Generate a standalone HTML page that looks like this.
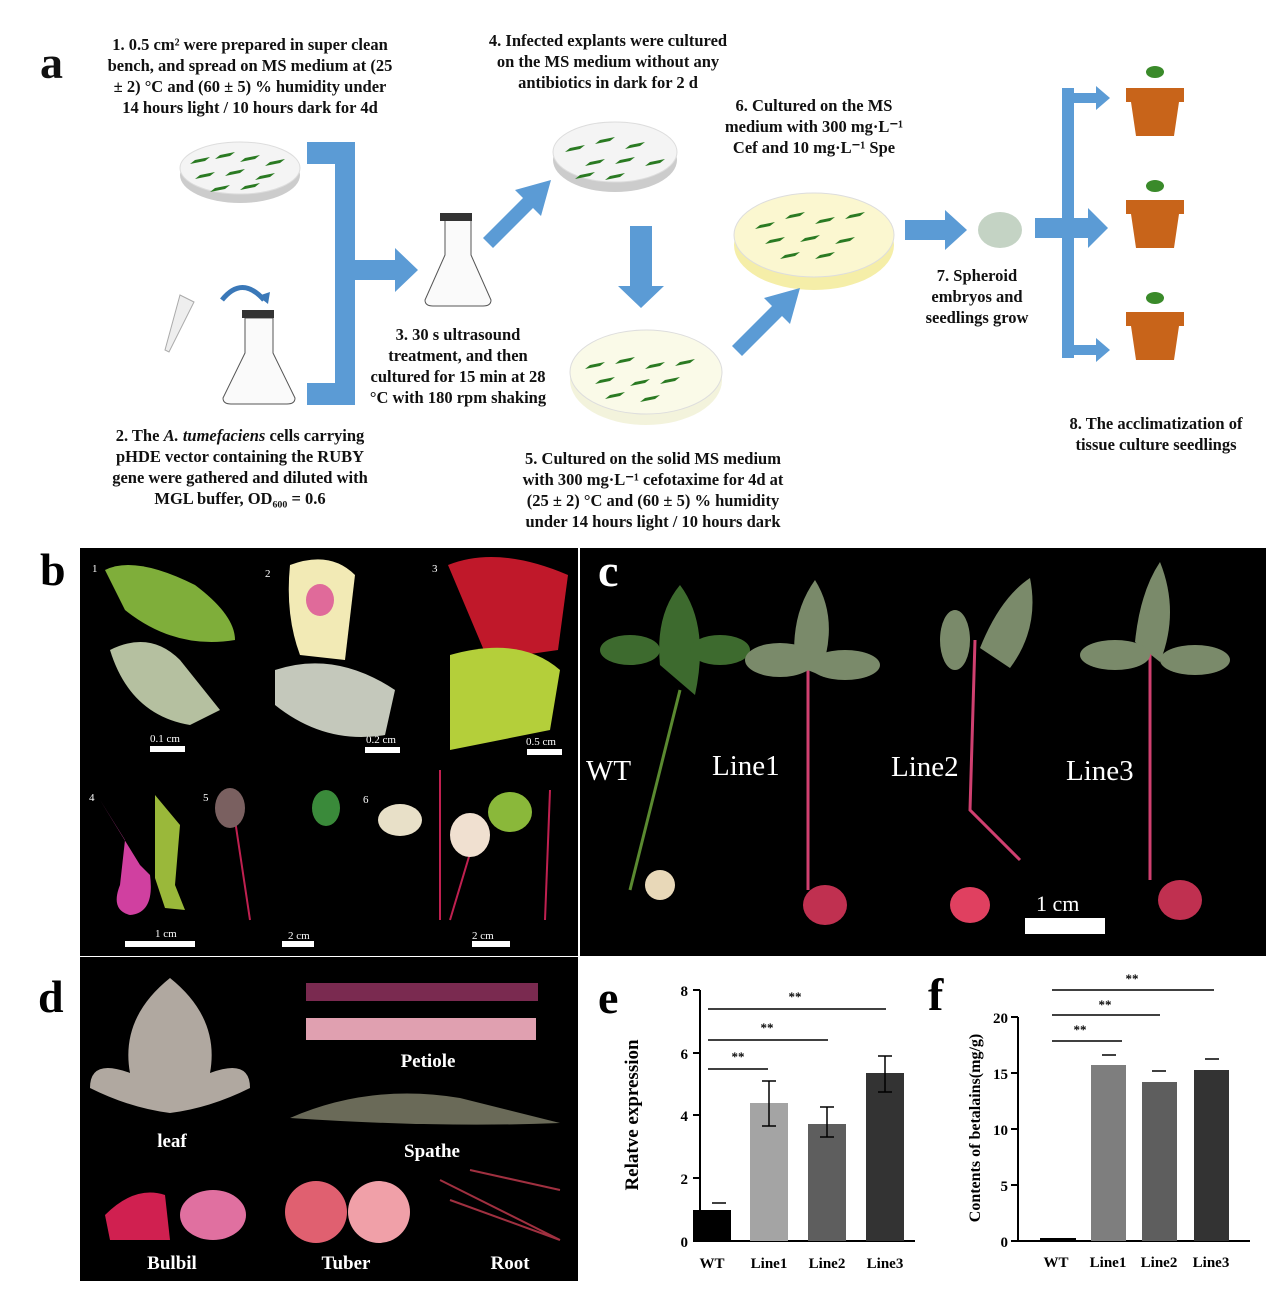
<!DOCTYPE html>
<html><head><meta charset="utf-8"><style>
body{margin:0;background:#fff}
svg text{font-family:"Liberation Serif",serif}
</style></head><body>
<svg width="1268" height="1290" xmlns="http://www.w3.org/2000/svg">
<rect width="1268" height="1290" fill="#fff"/>
<!-- Panel a -->
<g font-weight="bold" font-size="16.5" text-anchor="middle" fill="#111">
<text x="40" y="78" font-size="46" text-anchor="start">a</text>
<text x="250" y="50">1. 0.5 cm² were prepared in super clean</text>
<text x="250" y="71">bench, and spread on MS medium at (25</text>
<text x="250" y="92">± 2) °C and (60 ± 5) % humidity under</text>
<text x="250" y="113">14 hours light / 10 hours dark for 4d</text>
<text x="240" y="441">2. The <tspan font-style="italic">A. tumefaciens</tspan> cells carrying</text>
<text x="240" y="462">pHDE vector containing the RUBY</text>
<text x="240" y="483">gene were gathered and diluted with</text>
<text x="240" y="504">MGL buffer, OD₆₀₀ = 0.6</text>
<text x="458" y="340">3. 30 s ultrasound</text>
<text x="458" y="361">treatment, and then</text>
<text x="458" y="382">cultured for 15 min at 28</text>
<text x="458" y="403">°C with 180 rpm shaking</text>
<text x="608" y="46">4. Infected explants were cultured</text>
<text x="608" y="67">on the MS medium without any</text>
<text x="608" y="88">antibiotics in dark for 2 d</text>
<text x="653" y="464">5. Cultured on the solid MS medium</text>
<text x="653" y="485">with 300 mg·L⁻¹ cefotaxime for 4d at</text>
<text x="653" y="506">(25 ± 2) °C and (60 ± 5) % humidity</text>
<text x="653" y="527">under 14 hours light / 10 hours dark</text>
<text x="814" y="111">6. Cultured on the MS</text>
<text x="814" y="132">medium with 300 mg·L⁻¹</text>
<text x="814" y="153">Cef and 10 mg·L⁻¹ Spe</text>
<text x="977" y="281">7. Spheroid</text>
<text x="977" y="302">embryos and</text>
<text x="977" y="323">seedlings grow</text>
<text x="1156" y="429">8. The acclimatization of</text>
<text x="1156" y="450">tissue culture seedlings</text>
</g>
<!-- dishes -->
<g>
<ellipse cx="240" cy="175" rx="60" ry="28" fill="#ccc"/><ellipse cx="240" cy="168" rx="60" ry="26" fill="#f4f4f4" stroke="#ddd"/>
<ellipse cx="615" cy="160" rx="62" ry="32" fill="#ccc"/><ellipse cx="615" cy="152" rx="62" ry="30" fill="#f4f4f4" stroke="#ddd"/>
<ellipse cx="646" cy="380" rx="76" ry="45" fill="#f3f3dc"/><ellipse cx="646" cy="372" rx="76" ry="42" fill="#fafae8" stroke="#ddd"/>
<ellipse cx="814" cy="245" rx="80" ry="45" fill="#f5eea8"/><ellipse cx="814" cy="235" rx="80" ry="42" fill="#fbf7d0" stroke="#ddd"/>
</g>
<g fill="#2a7a22">
<path d="M195 160l15-3-5 4-15 3zM220 155l15-3-5 4-15 3zM245 158l15-3-5 4-15 3zM270 162l15-3-5 4-15 3zM200 175l15-3-5 4-15 3zM230 172l15-3-5 4-15 3zM260 176l15-3-5 4-15 3zM215 188l15-3-5 4-15 3zM245 186l15-3-5 4-15 3z"/>
<path d="M570 148l15-3-5 4-15 3zM600 140l15-3-5 4-15 3zM630 145l15-3-5 4-15 3zM590 162l15-3-5 4-15 3zM620 160l15-3-5 4-15 3zM650 162l15-3-5 4-15 3zM580 175l15-3-5 4-15 3zM610 176l15-3-5 4-15 3z"/>
<path d="M590 365l15-3-5 4-15 3zM620 360l15-3-5 4-15 3zM650 365l15-3-5 4-15 3zM680 362l15-3-5 4-15 3zM600 380l15-3-5 4-15 3zM635 382l15-3-5 4-15 3zM665 380l15-3-5 4-15 3zM610 395l15-3-5 4-15 3zM645 398l15-3-5 4-15 3z"/>
<path d="M760 225l15-3-5 4-15 3zM790 215l15-3-5 4-15 3zM820 220l15-3-5 4-15 3zM850 215l15-3-5 4-15 3zM770 240l15-3-5 4-15 3zM805 238l15-3-5 4-15 3zM840 240l15-3-5 4-15 3zM785 255l15-3-5 4-15 3zM820 255l15-3-5 4-15 3z"/>
</g>
<!-- flasks -->
<g stroke="#555" fill="#fafafa">
<path d="M245 318v35l-22 45q0 6 8 6h56q8 0 8-6l-22-45v-35z"/>
<path d="M445 220v35l-20 45q0 6 8 6h50q8 0 8-6l-20-45v-35z"/>
</g>
<rect x="242" y="310" width="32" height="8" fill="#333"/>
<rect x="440" y="213" width="32" height="8" fill="#333"/>
<path d="M180 295l-15 55 4 2 25-50z" fill="#eee" stroke="#aaa"/>
<path d="M222 300q20-25 42 0" fill="none" stroke="#3a78b8" stroke-width="5"/>
<path d="M258 296l10 8 2-12z" fill="#3a78b8"/>
<!-- blue arrows -->
<g fill="#5b9bd5">
<path d="M307 142h48v263h-48v-22h28v-219h-28z"/>
<path d="M355 260h40v-12l23 22-23 22v-12h-40z"/>
<path d="M483 238l40-40-8-8 36-10-10 36-8-8-40 40z"/>
<path d="M630 226h22v60h12l-23 22-23-22h12z"/>
<path d="M732 346l40-40-8-8 36-10-10 36-8-8-40 40z"/>
<path d="M905 220h40v-10l22 20-22 20v-10h-40z"/>
<rect x="1062" y="88" width="12" height="270"/>
<rect x="1035" y="218" width="60" height="20"/>
<path d="M1088 208l20 20-20 20z"/>
<rect x="1074" y="93" width="24" height="10"/>
<path d="M1096 86l14 12-14 12z"/>
<rect x="1074" y="345" width="24" height="10"/>
<path d="M1096 338l14 12-14 12z"/>
</g>
<ellipse cx="1000" cy="230" rx="22" ry="18" fill="#c4d3c4"/>
<g fill="#c8641a">
<path d="M1126 88h58v14h-5l-5 34h-38l-5-34h-5z"/>
<path d="M1126 200h58v14h-5l-5 34h-38l-5-34h-5z"/>
<path d="M1126 312h58v14h-5l-5 34h-38l-5-34h-5z"/>
</g>
<g fill="#3a8a2a"><ellipse cx="1155" cy="72" rx="9" ry="6"/><ellipse cx="1155" cy="186" rx="9" ry="6"/><ellipse cx="1155" cy="298" rx="9" ry="6"/></g>
<!-- panel b -->
<rect x="80" y="548" width="498" height="408" fill="#000"/>
<text x="40" y="585" font-size="46" font-weight="bold">b</text>
<g font-size="11" fill="#fff"><text x="92" y="572">1</text><text x="265" y="577">2</text><text x="432" y="572">3</text><text x="89" y="801">4</text><text x="203" y="801">5</text><text x="363" y="803">6</text>
<text x="150" y="742">0.1 cm</text><text x="366" y="743">0.2 cm</text><text x="526" y="745">0.5 cm</text><text x="155" y="937">1 cm</text><text x="288" y="939">2 cm</text><text x="472" y="939">2 cm</text></g>
<g fill="#fff"><rect x="150" y="746" width="35" height="6"/><rect x="365" y="747" width="35" height="6"/><rect x="527" y="749" width="35" height="6"/><rect x="125" y="941" width="70" height="6"/><rect x="282" y="941" width="32" height="6"/><rect x="472" y="941" width="38" height="6"/></g>
<path d="M105 570q30-15 90 15q40 30 40 55q-60 10-110-30z" fill="#7fae3a"/>
<path d="M110 650q40-20 70 10l40 50-30 15q-60-10-80-75z" fill="#b5c0a0"/>
<path d="M290 565q40-15 65 10l-10 85-45-5q-15-40-10-90z" fill="#f2eab5"/>
<ellipse cx="320" cy="600" rx="14" ry="16" fill="#e06a9a"/>
<path d="M275 670q60-20 120 20l-10 45q-60 10-110-30z" fill="#c4c8bb"/>
<path d="M448 565q50-20 120 10l-10 75-70 10z" fill="#c0182a"/>
<path d="M450 655q70-20 110 15l-10 60-100 20z" fill="#b4cf3a"/>
<path d="M100 800l25 40-5 45q-10 25 10 30q25-2 20-40l-10-10z" fill="#d040a0"/>
<path d="M155 795l25 30-5 60 10 25-20-2-10-30z" fill="#9ab83a"/>
<g stroke="#c02050" stroke-width="2" fill="none"><path d="M235 820l15 100"/><path d="M440 770v150"/><path d="M480 820l-30 100"/><path d="M550 790l-5 130"/></g>
<ellipse cx="230" cy="808" rx="15" ry="20" fill="#7a6060"/>
<ellipse cx="326" cy="808" rx="14" ry="18" fill="#3a8a3a"/>
<ellipse cx="400" cy="820" rx="22" ry="16" fill="#e8e0c8"/>
<ellipse cx="470" cy="835" rx="20" ry="22" fill="#f0e0d0"/>
<ellipse cx="510" cy="812" rx="22" ry="20" fill="#8ab83a"/>
<!-- panel c -->
<rect x="580" y="548" width="686" height="408" fill="#000"/>
<text x="598" y="586" font-size="46" font-weight="bold" fill="#fff">c</text>
<g font-size="29" fill="#fff"><text x="586" y="780">WT</text><text x="712" y="775">Line1</text><text x="891" y="776">Line2</text><text x="1066" y="780">Line3</text><text x="1036" y="911" font-size="22">1 cm</text></g>
<rect x="1025" y="918" width="80" height="16" fill="#fff"/>
<g stroke-width="3" fill="none"><path d="M680 690l-50 200" stroke="#5a8a30"/><path d="M808 670v220" stroke="#d04070"/><path d="M975 640l-5 170 50 50" stroke="#d04070"/><path d="M1150 650v230" stroke="#d04070"/></g>
<g fill="#3d6a2e"><path d="M680 585q30 40 15 110l-35-30q-5-50 20-80z"/><ellipse cx="630" cy="650" rx="30" ry="15"/><ellipse cx="720" cy="650" rx="30" ry="15"/></g>
<g fill="#7a8a6a"><path d="M815 580q25 40 5 95l-25-10q-5-50 20-85z"/><ellipse cx="780" cy="660" rx="35" ry="17"/><ellipse cx="845" cy="665" rx="35" ry="15"/>
<path d="M1030 578q10 50-20 90l-30-20q20-50 50-70z"/><ellipse cx="955" cy="640" rx="15" ry="30"/>
<path d="M1160 562q20 50 0 100l-25-20q5-50 25-80z"/><ellipse cx="1115" cy="655" rx="35" ry="15"/><ellipse cx="1195" cy="660" rx="35" ry="15"/></g>
<ellipse cx="660" cy="885" rx="15" ry="15" fill="#e8d8b8"/>
<ellipse cx="825" cy="905" rx="22" ry="20" fill="#c03050"/>
<ellipse cx="970" cy="905" rx="20" ry="18" fill="#e04060"/>
<ellipse cx="1180" cy="900" rx="22" ry="20" fill="#c03050"/>
<!-- panel d -->
<rect x="80" y="957" width="498" height="324" fill="#000"/>
<text x="38" y="1012" font-size="46" font-weight="bold">d</text>
<g font-size="19" font-weight="bold" fill="#fff" text-anchor="middle"><text x="172" y="1147">leaf</text><text x="428" y="1067">Petiole</text><text x="432" y="1157">Spathe</text><text x="172" y="1269">Bulbil</text><text x="346" y="1269">Tuber</text><text x="510" y="1269">Root</text></g>
<path d="M170 978q50 40 40 95q40-15 40 15q-40 20-80 25q-40-5-80-25q0-30 40-15q-10-55 40-95z" fill="#b0a8a0"/>
<rect x="306" y="983" width="232" height="18" fill="#7a2a50"/>
<rect x="306" y="1018" width="230" height="22" fill="#e0a0b0"/>
<path d="M290 1118q80-35 170-20l100 25q-120 5-270-5z" fill="#6a6a58"/>
<path d="M105 1215q30-30 60-20l5 45-60 0z" fill="#d02050"/>
<ellipse cx="213" cy="1215" rx="33" ry="25" fill="#e070a0"/>
<circle cx="316" cy="1212" r="31" fill="#e06070"/><circle cx="379" cy="1212" r="31" fill="#f0a0a8"/>
<path d="M440 1180l120 60M450 1200l110 40M470 1170l90 20" stroke="#a03040" stroke-width="2"/>
<!-- panel e -->
<g font-weight="bold" font-family="Liberation Serif">
<text x="598" y="1013" font-size="46">e</text>
<text x="928" y="1010" font-size="46">f</text>
</g>
<g stroke="#000" stroke-width="2" fill="none">
<path d="M700 990V1241H915"/>
<path d="M693 990h7M693 1053h7M693 1115h7M693 1178h7M693 1241h7"/>
<path d="M1018 1017V1241H1250"/>
<path d="M1011 1017h7M1011 1073h7M1011 1129h7M1011 1185h7M1011 1241h7"/>
</g>
<g font-size="15" font-weight="bold" text-anchor="end"><text x="688" y="996">8</text><text x="688" y="1059">6</text><text x="688" y="1121">4</text><text x="688" y="1184">2</text><text x="688" y="1247">0</text>
<text x="1008" y="1023">20</text><text x="1008" y="1079">15</text><text x="1008" y="1135">10</text><text x="1008" y="1191">5</text><text x="1008" y="1247">0</text></g>
<rect x="693" y="1210" width="38" height="31" fill="#000"/>
<rect x="750" y="1103" width="38" height="138" fill="#a4a4a4"/>
<rect x="808" y="1124" width="38" height="117" fill="#5e5e5e"/>
<rect x="866" y="1073" width="38" height="168" fill="#333"/>
<rect x="1040" y="1238" width="36" height="3" fill="#000"/>
<rect x="1091" y="1065" width="35" height="176" fill="#7e7e7e"/>
<rect x="1142" y="1082" width="35" height="159" fill="#5e5e5e"/>
<rect x="1194" y="1070" width="35" height="171" fill="#333"/>
<g stroke="#000" stroke-width="1.5"><path d="M769 1081v45M762 1081h14M762 1126h14M827 1107v30M820 1107h14M820 1137h14M885 1056v36M878 1056h14M878 1092h14M712 1203h14M1102 1055h14M1152 1071h14M1205 1059h14"/>
<path d="M708 1069h60M708 1040h120M708 1009h178M1052 1041h70M1052 1015h108M1052 990h162"/></g>
<g font-size="13" font-weight="bold" text-anchor="middle"><text x="738" y="1061">**</text><text x="767" y="1032">**</text><text x="795" y="1001">**</text><text x="1080" y="1034">**</text><text x="1105" y="1009">**</text><text x="1132" y="983">**</text>
<text x="712" y="1268" font-size="15">WT</text><text x="769" y="1268" font-size="15">Line1</text><text x="827" y="1268" font-size="15">Line2</text><text x="885" y="1268" font-size="15">Line3</text>
<text x="1056" y="1267" font-size="15">WT</text><text x="1108" y="1267" font-size="15">Line1</text><text x="1159" y="1267" font-size="15">Line2</text><text x="1211" y="1267" font-size="15">Line3</text></g>
<text transform="translate(638 1115) rotate(-90)" font-size="19" font-weight="bold" text-anchor="middle">Relatve expression</text>
<text transform="translate(980 1128) rotate(-90)" font-size="16" font-weight="bold" text-anchor="middle">Contents of betalains(mg/g)</text>
</svg>
</body></html>
